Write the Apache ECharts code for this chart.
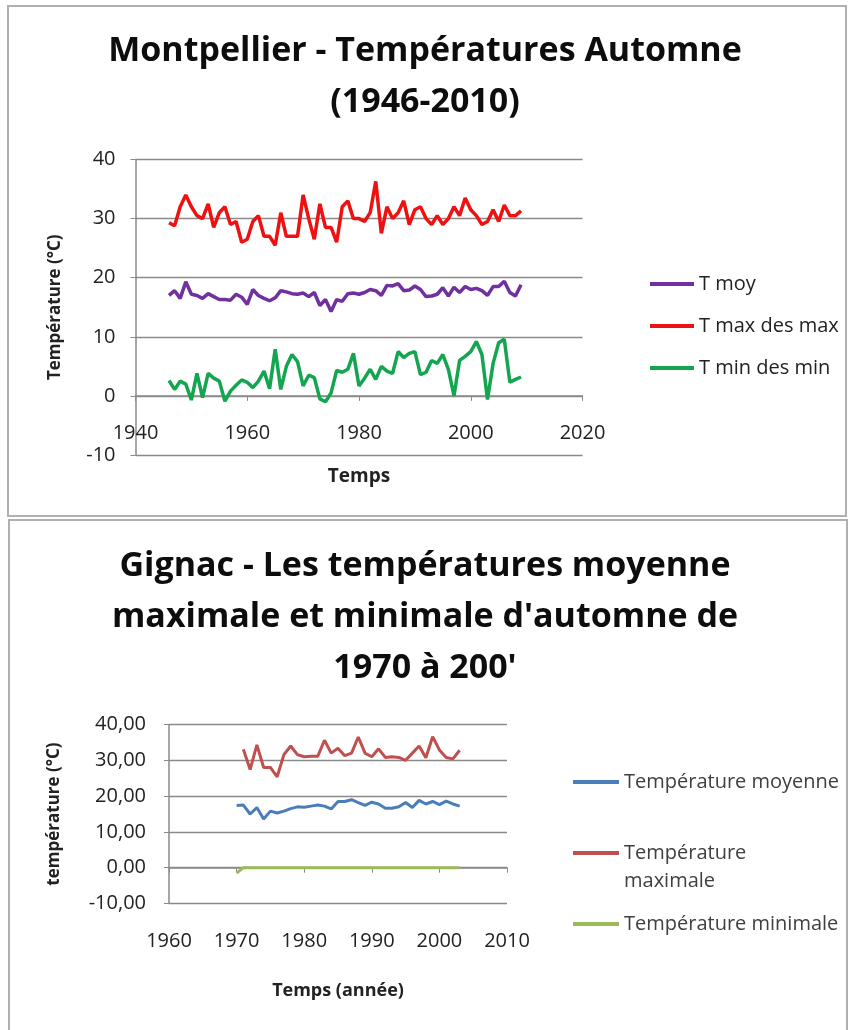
<!DOCTYPE html>
<html>
<head>
<meta charset="utf-8">
<script src="https://cdn.jsdelivr.net/npm/echarts@6/dist/echarts.min.js"></script>
<style>
  html, body { margin: 0; padding: 0; background: #fff; }
  #chart { width: 850px; height: 1030px; }
</style>
</head>
<body>
<div id="chart"></div>
<script>
// Montpellier, autumn 1946-2009
const mtpYears = [1946, 1947, 1948, 1949, 1950, 1951, 1952, 1953, 1954, 1955,
  1956, 1957, 1958, 1959, 1960, 1961, 1962, 1963, 1964, 1965,
  1966, 1967, 1968, 1969, 1970, 1971, 1972, 1973, 1974, 1975,
  1976, 1977, 1978, 1979, 1980, 1981, 1982, 1983, 1984, 1985,
  1986, 1987, 1988, 1989, 1990, 1991, 1992, 1993, 1994, 1995,
  1996, 1997, 1998, 1999, 2000, 2001, 2002, 2003, 2004, 2005,
  2006, 2007, 2008, 2009];
const mtpMoy = [17, 17.8, 16.5, 19.3, 17.2, 17, 16.5, 17.3, 16.8, 16.3,
  16.3, 16.2, 17.2, 16.7, 15.5, 18, 17, 16.5, 16.1, 16.6,
  17.8, 17.6, 17.3, 17.2, 17.4, 16.8, 17.5, 15.3, 16.3, 14.3,
  16.3, 16, 17.3, 17.4, 17.2, 17.5, 18, 17.8, 17, 18.7,
  18.6, 19, 17.8, 17.9, 18.6, 18, 16.8, 16.9, 17.2, 18.3,
  16.9, 18.4, 17.5, 18.5, 18, 18.2, 17.8, 17, 18.5, 18.5,
  19.4, 17.5, 16.9, 18.8];
const mtpMax = [29.3, 28.8, 32, 34, 32, 30.5, 30, 32.5, 28.5, 31,
  32, 29, 29.5, 26, 26.5, 29.5, 30.5, 27, 27, 25.5,
  31, 27, 27, 27, 34, 30, 26.5, 32.5, 28.5, 28.5,
  26, 32, 33, 30, 30, 29.5, 31, 36.3, 27.5, 32,
  30, 31, 33, 29, 31.5, 32, 30, 29, 30.5, 29,
  30, 32, 30.5, 33.5, 31.5, 30.5, 29, 29.5, 31.5, 29.5,
  32.3, 30.5, 30.5, 31.3];
const mtpMin = [2.6, 1.1, 2.5, 2, -0.7, 3.8, -0.3, 3.8, 3, 2.5,
  -0.9, 0.8, 1.8, 2.7, 2.3, 1.4, 2.5, 4.2, 1.2, 7.9,
  1.1, 5, 7, 5.8, 1.7, 3.5, 3.1, -0.5, -1, 0.5,
  4.3, 4, 4.5, 7.2, 1.7, 3, 4.5, 2.8, 5, 4.2,
  3.8, 7.5, 6.5, 7.2, 7.5, 3.6, 4, 6, 5.5, 7,
  4.5, 0, 6, 6.7, 7.5, 9.2, 7, -0.6, 5.5, 9,
  9.6, 2.3, 2.8, 3.2];

// Gignac, autumn 1970-2003
const gigYears = [1970, 1971, 1972, 1973, 1974, 1975, 1976, 1977, 1978, 1979,
  1980, 1981, 1982, 1983, 1984, 1985, 1986, 1987, 1988, 1989,
  1990, 1991, 1992, 1993, 1994, 1995, 1996, 1997, 1998, 1999,
  2000, 2001, 2002, 2003];
const gigMoy = [17.4, 17.5, 15, 16.8, 13.6, 15.8, 15.3, 15.8, 16.5, 17,
  16.9, 17.2, 17.5, 17.2, 16.4, 18.5, 18.5, 19, 18.2, 17.4,
  18.3, 17.8, 16.6, 16.6, 17, 18.2, 16.8, 18.8, 17.8, 18.5,
  17.6, 18.6, 17.8, 17.2];
const gigMax = [null, 33.1, 27.4, 34.3, 28, 28, 25.4, 31.6, 34, 31.6,
  31, 31.1, 31.1, 35.6, 32, 33.4, 31.3, 32, 36.5, 32,
  31, 33.2, 30.8, 31, 30.8, 30, 32, 34, 30.7, 36.6,
  32.9, 30.8, 30.4, 32.8];
const gigMin = [-1.5, 0, 0, 0, 0, 0, 0, 0, 0, 0,
  0, 0, 0, 0, 0, 0, 0, 0, 0, 0,
  0, 0, 0, 0, 0, 0, 0, 0, 0, 0,
  0, 0, 0, 0];

const FONT = '"Open Sans", "Liberation Sans", sans-serif';
const GRAY = '#8a8a8a';

function pairs(xs, ys) {
  return xs.map((x, i) => [x, ys[i] == null ? '-' : ys[i]]);
}

function lineSeries(name, xi, xs, ys, color, width) {
  return {
    name: name,
    type: 'line',
    xAxisIndex: xi,
    yAxisIndex: xi,
    data: pairs(xs, ys),
    showSymbol: false,
    symbol: 'none',
    lineStyle: { color: color, width: width },
    itemStyle: { color: color }
  };
}

// x axis sits on the zero line of y (y range is -10..40, so 1/5 of the height up)
function xAxisCfg(grid, min, max, step, zeroOffset, labelMargin, name, nameSize, nameGap) {
  return {
    type: 'value',
    gridIndex: grid,
    min: min, max: max, interval: step,
    position: 'bottom',
    offset: -zeroOffset,
    axisLine: { show: true, onZero: false, lineStyle: { color: GRAY, width: 1.5 } },
    axisTick: { show: true, length: 5, lineStyle: { color: GRAY } },
    axisLabel: { margin: labelMargin, fontSize: 20, color: '#222', fontFamily: FONT,
      formatter: v => String(v) },
    splitLine: { show: false },
    name: name,
    nameLocation: 'middle',
    nameGap: nameGap,
    nameTextStyle: { fontSize: nameSize, fontWeight: 'bold', color: '#222', fontFamily: FONT }
  };
}

function yAxisCfg(grid, labelMargin, fmt, name, nameGap) {
  return {
    type: 'value',
    gridIndex: grid,
    min: -10, max: 40, interval: 10,
    axisLine: { show: true, lineStyle: { color: GRAY, width: 1.5 } },
    axisTick: { show: true, length: 5, lineStyle: { color: GRAY } },
    axisLabel: { margin: labelMargin, fontSize: 20, color: '#222', fontFamily: FONT, formatter: fmt },
    splitLine: { show: true, lineStyle: { color: GRAY, width: 1.3 } },
    name: name,
    nameLocation: 'middle',
    nameRotate: 90,
    nameGap: nameGap,
    nameTextStyle: { fontSize: 17, fontWeight: 'bold', color: '#222', fontFamily: FONT }
  };
}

const chart = echarts.init(document.getElementById('chart'));

chart.setOption({
  animation: false,
  backgroundColor: '#fff',
  textStyle: { fontFamily: FONT },
  graphic: [
    { type: 'rect', shape: { x: 8, y: 6, width: 838, height: 510 },
      style: { fill: 'none', stroke: '#b0b0b0', lineWidth: 2 }, z: -1 },
    { type: 'rect', shape: { x: 9, y: 520, width: 838, height: 520 },
      style: { fill: 'none', stroke: '#b0b0b0', lineWidth: 2 }, z: -1 }
  ],
  title: [
    {
      text: 'Montpellier - Températures Automne\n(1946-2010)',
      left: 'center', top: 26, padding: [0, 0, 0, 18],
      textStyle: { fontSize: 34, fontWeight: 'bold', color: '#0d0d0d', lineHeight: 51, fontFamily: FONT }
    },
    {
      text: "Gignac - Les températures moyenne\nmaximale et minimale d'automne de\n1970 à 200'",
      left: 'center', top: 541, padding: [0, 0, 0, 18],
      textStyle: { fontSize: 34, fontWeight: 'bold', color: '#0d0d0d', lineHeight: 51, fontFamily: FONT }
    }
  ],
  legend: [
    {
      data: ['T moy', 'T max des max', 'T min des min'],
      orient: 'vertical', left: 645, top: 269,
      icon: 'rect', itemWidth: 44, itemHeight: 4, itemGap: 22,
      textStyle: { fontSize: 20, lineHeight: 20, color: '#222', fontFamily: FONT }
    },
    {
      data: ['Température moyenne', 'Température maximale', 'Température minimale'],
      formatter: function (n) { return n === 'Température maximale' ? '\nTempérature\nmaximale' : n; },
      orient: 'vertical', left: 568, top: 763,
      icon: 'rect', itemWidth: 46, itemHeight: 4, itemGap: 15,
      textStyle: { fontSize: 20, color: '#404040', lineHeight: 28, fontFamily: FONT }
    }
  ],
  grid: [
    { left: 135.5, top: 159.5, width: 447, height: 295.5 },
    { left: 169, top: 724.5, width: 338, height: 179 }
  ],
  xAxis: [
    xAxisCfg(0, 1940, 2020, 20, 295.5 / 5, 27, 'Temps', 19, 71),
    xAxisCfg(1, 1960, 2010, 10, 179 / 5, 64, 'Temps (année)', 18, 114)
  ],
  yAxis: [
    yAxisCfg(0, 20, null, 'Température (°C)', 72),
    yAxisCfg(1, 23, v => v.toFixed(2).replace('.', ','), 'température (°C)', 106)
  ],
  series: [
    lineSeries('T moy', 0, mtpYears, mtpMoy, '#7030a0', 3.5),
    lineSeries('T max des max', 0, mtpYears, mtpMax, '#ee1111', 3.5),
    lineSeries('T min des min', 0, mtpYears, mtpMin, '#14a550', 3.5),
    lineSeries('Température moyenne', 1, gigYears, gigMoy, '#4a7ebb', 3),
    lineSeries('Température maximale', 1, gigYears, gigMax, '#c0504d', 3),
    lineSeries('Température minimale', 1, gigYears, gigMin, '#9bbb59', 3)
  ]
});
</script>
</body>
</html>
